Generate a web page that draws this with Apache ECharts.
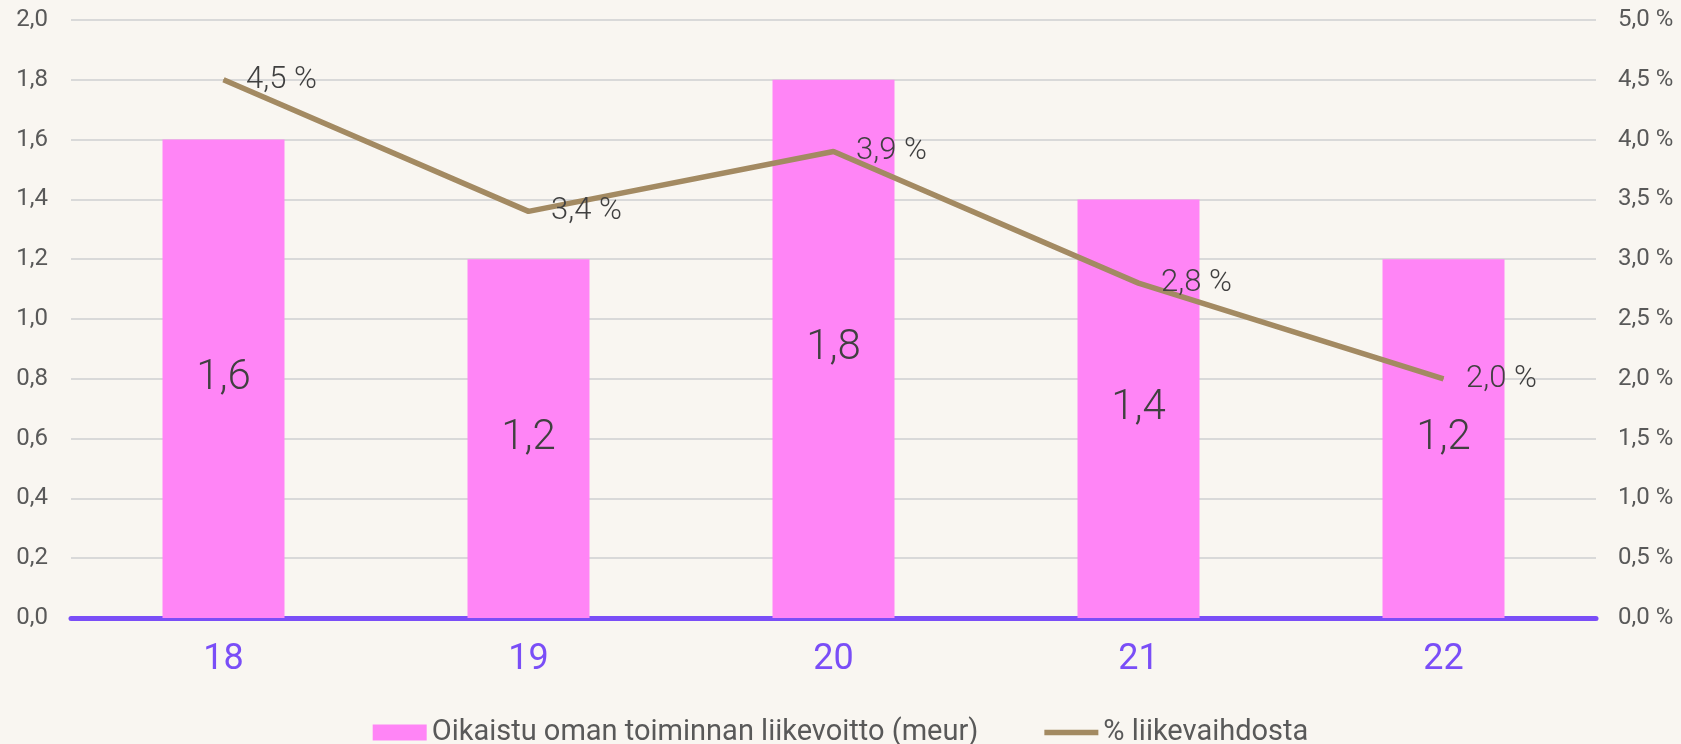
<!DOCTYPE html>
<html>
<head>
<meta charset="utf-8">
<script src="https://cdn.jsdelivr.net/npm/echarts@6/dist/echarts.min.js"></script>
<style>
  html, body { margin: 0; padding: 0; background: #f9f6f1; }
  #chart { width: 1681px; height: 744px; }
</style>
</head>
<body>
<div id="chart"></div>
<script>
const years = ['18', '19', '20', '21', '22'];
const profit = [1.6, 1.2, 1.8, 1.4, 1.2];
const percentOfRevenue = [4.5, 3.4, 3.9, 2.8, 2.0];
const barName = 'Oikaistu oman toiminnan liikevoitto (meur)';
const lineName = '% liikevaihdosta';

const fmt = v => v.toFixed(1).replace('.', ',');

const chart = echarts.init(document.getElementById('chart'));

chart.setOption({
  backgroundColor: '#f9f6f1',
  animation: false,
  textStyle: { fontFamily: 'Roboto' },
  grid: { left: 71, right: 85, top: 20, bottom: 126 },
  legend: {
    top: 713,
    left: 'center',
    itemGap: 66,
    itemWidth: 54,
    itemHeight: 16,
    textStyle: { fontSize: 29, color: '#595959', fontFamily: 'Roboto' },
    data: [
      { name: barName, icon: 'rect' },
      { name: lineName, icon: 'path://M0,0 L60,0 L60,6 L0,6 Z' }
    ]
  },
  xAxis: {
    type: 'category',
    data: years,
    axisTick: { show: false },
    axisLine: { lineStyle: { color: '#7a4ef7', width: 5 } },
    axisLabel: { color: '#7a4ef7', fontSize: 36, margin: 24 }
  },
  yAxis: [
    {
      type: 'value',
      min: 0,
      max: 2,
      interval: 0.2,
      axisLine: { show: false },
      axisTick: { show: false },
      axisLabel: { color: '#595959', fontSize: 24, margin: 23, formatter: fmt },
      splitLine: { lineStyle: { color: '#d9d9d9', width: 2 } }
    },
    {
      type: 'value',
      min: 0,
      max: 5,
      interval: 0.5,
      axisLine: { show: false },
      axisTick: { show: false },
      axisLabel: { color: '#595959', fontSize: 24, margin: 22, formatter: v => fmt(v) + ' %' },
      splitLine: { show: false }
    }
  ],
  series: [
    {
      name: barName,
      type: 'bar',
      data: profit,
      barWidth: '40%',
      itemStyle: { color: '#ff85f6' },
      label: {
        show: true,
        position: 'inside',
        fontSize: 42,
        fontWeight: 300,
        color: '#404040',
        formatter: p => fmt(p.value)
      }
    },
    {
      name: lineName,
      type: 'line',
      yAxisIndex: 1,
      data: percentOfRevenue,
      symbol: 'circle',
      symbolSize: 1,
      lineStyle: { color: '#a38a62', width: 5.5 },
      itemStyle: { color: '#a38a62' },
      label: {
        show: true,
        position: 'right',
        distance: 22,
        fontSize: 31,
        fontWeight: 300,
        color: '#404040',
        formatter: p => fmt(p.value) + ' %'
      }
    }
  ]
});
</script>
</body>
</html>
